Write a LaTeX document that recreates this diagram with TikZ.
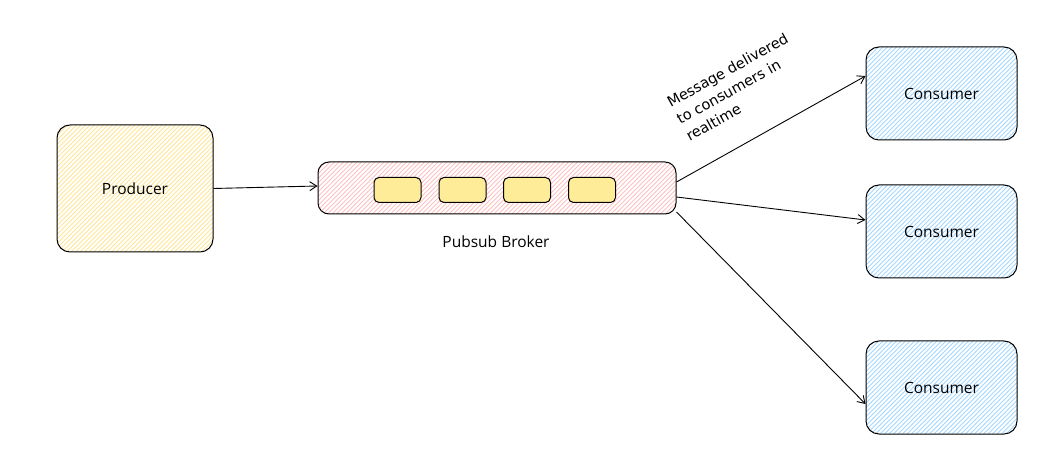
\documentclass[tikz,border=0pt]{standalone}
\usepackage{fontspec}
\setmainfont{Open Sans}
\newfontfamily\notafont{DejaVu Sans}
\usetikzlibrary{arrows.meta}

\definecolor{amarillo}{HTML}{FFE596}
\definecolor{amarillofuerte}{HTML}{FFEC99}
\definecolor{rosa}{HTML}{FFC2C2}
\definecolor{azul}{HTML}{A5D8FF}

\tikzset{
  caja/.style={draw, line width=1pt, rounded corners=13pt, font=\fontsize{15.5}{18}\selectfont},
  % rayado a mano, recortado por la propia caja
  rayado/.style={path picture={
    \foreach \k in {-400,-395.5,...,400}
      \draw[#1, line width=0.8pt] ([xshift=\k pt]path picture bounding box.south west) -- ++(420,-420);
  }},
  flecha/.style={line width=0.9pt, -{Straight Barb[length=7pt,width=9pt]}}
}

\begin{document}
\begin{tikzpicture}[x=1pt,y=-1pt]
\useasboundingbox (0,0) rectangle (1050,454);

% Productor
\node[caja, rayado=amarillo, minimum width=156pt, minimum height=127pt] (productor) at (135,188.5) {Producer};

% Broker con sus mensajes
\node[caja, rayado=rosa, rounded corners=11pt, minimum width=358pt, minimum height=52pt] (broker) at (497,188) {};
\foreach \x [count=\i] in {397.5,462.5,527,592}
  \node[draw, line width=1pt, fill=amarillofuerte, rounded corners=5pt, minimum width=47pt, minimum height=25pt] (msg\i) at (\x,190) {};
\node[font=\fontsize{15.5}{18}\selectfont] (nombre) at (496,242) {Pubsub Broker};

% Consumidores
\foreach \y [count=\i] in {93.5,231.5,387.5}
  \node[caja, rayado=azul, minimum width=151pt, minimum height=93pt] (consumidor\i) at (941.5,\y) {Consumer};

% Flechas
\draw[flecha] (productor.east) -- ([yshift=2pt]broker.west);
\draw[flecha] ([yshift=6pt]broker.east) -- ([yshift=17.5pt]consumidor1.west);
\draw[flecha] ([yshift=-9pt]broker.east) -- ([yshift=11.5pt]consumidor2.west);
\draw[flecha] ([yshift=-24pt]broker.east) -- ([yshift=-16.5pt]consumidor3.west);

% Rotulo de la flecha superior
\node[rotate=29, align=left, inner sep=0pt, font=\notafont\fontsize{14.5}{19.5}\selectfont] (nota) at (737,87) {Message delivered\\to consumers in\\realtime};
\end{tikzpicture}
\end{document}
